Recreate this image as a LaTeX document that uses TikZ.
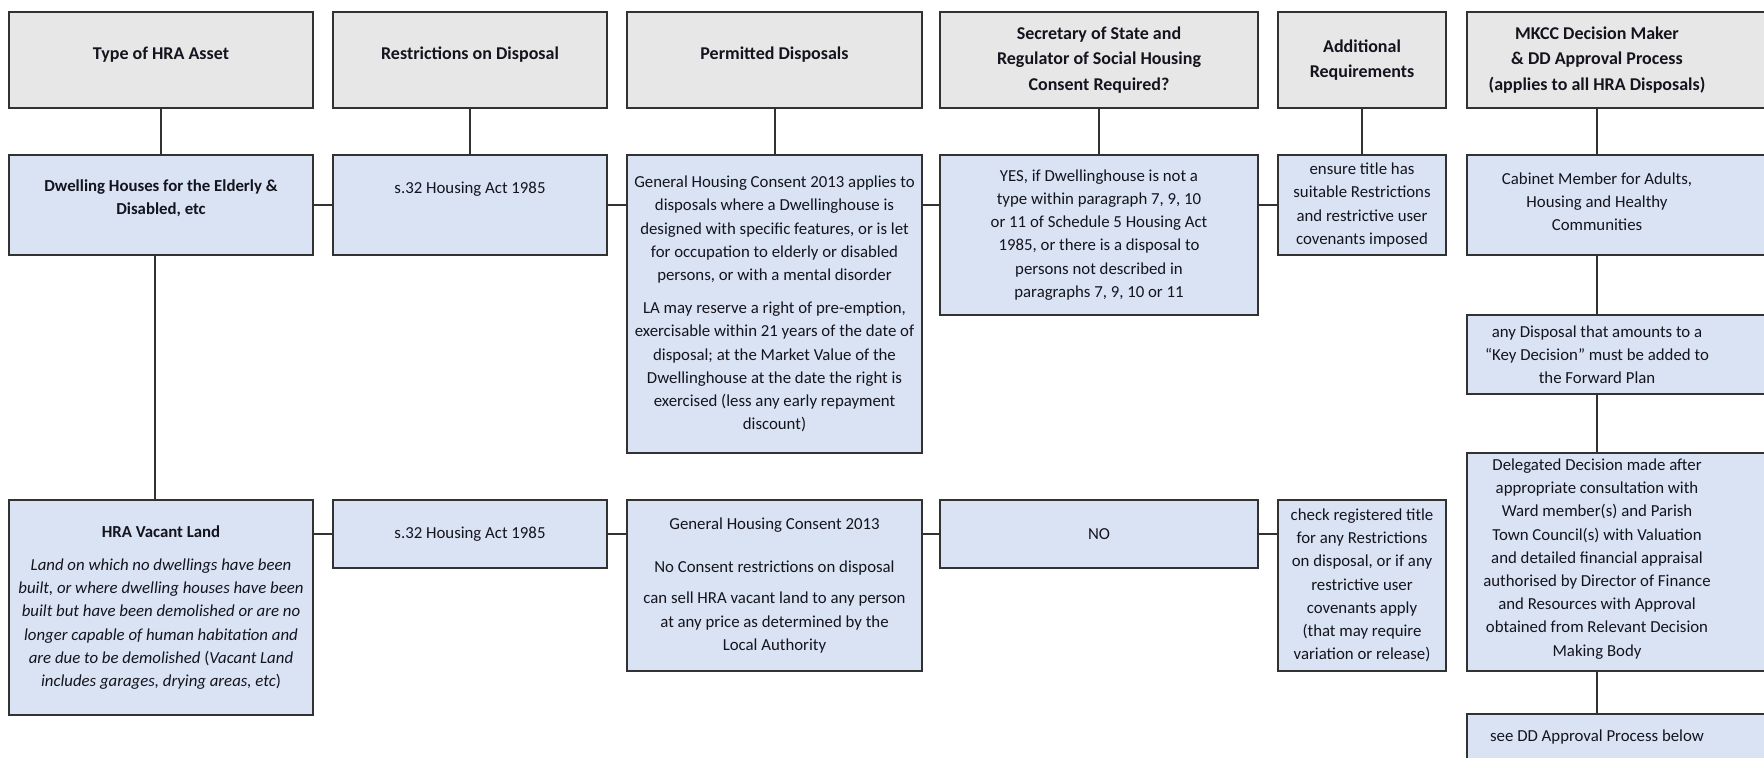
\documentclass[tikz,border=0pt]{standalone}
\usepackage{fontspec}
\setmainfont{Carlito}
\definecolor{linec}{RGB}{50,50,50}
\definecolor{hdrfill}{RGB}{231,231,231}
\definecolor{cellfill}{RGB}{218,227,243}
\definecolor{txtc}{RGB}{20,20,30}
\newcommand\hfnt{\fontsize{9}{12.7}\selectfont\bfseries}
\newcommand\bfnt{\fontsize{8.4}{11.6}\selectfont}
% #1 name, #2 style, #3 x1, #4 y1, #5 x2, #6 y2, #7 text
\newcommand\mybox[7]{\node[#2, minimum width={(#5-#3)*0.5pt}, minimum height={(#6-#4)*0.5pt}] (#1) at ({(#3+#5)/2},{(#4+#6)/2}) {#7};}
\begin{document}
\begin{tikzpicture}[x=0.5pt,y=-0.5pt,
  box/.style={draw=linec, line width=1pt, rectangle, inner sep=0pt, align=center, text=txtc},
  hdr/.style={box, fill=hdrfill, font=\hfnt},
  cell/.style={box, fill=cellfill, font=\bfnt},
  txt/.style={inner sep=0pt, align=center, text=txtc},
  conn/.style={draw=linec, line width=1pt}]
\fill[white] (0,0) rectangle (1764,758);
\useasboundingbox (0,0) rectangle (1764,758);
% headers
\mybox{h1}{hdr}{9}{12}{313}{108}{Type of HRA Asset\\[-6pt]\mbox{}}
\mybox{h2}{hdr}{333}{12}{607}{108}{Restrictions on Disposal\\[-6pt]\mbox{}}
\mybox{h3}{hdr}{627}{12}{922}{108}{Permitted Disposals\\[-6pt]\mbox{}}
\mybox{h4}{hdr}{940}{12}{1258}{108}{Secretary of State and\\Regulator of Social Housing\\Consent Required?}
\mybox{h5}{hdr}{1278}{12}{1446}{108}{Additional\\Requirements}
\mybox{h6}{hdr}{1467}{12}{1800}{108}{}
\node[txt, font=\hfnt] (h6t) at (1597,60) {MKCC Decision Maker\\\& DD Approval Process\\(applies to all HRA Disposals)};
% row 1
\mybox{a1}{cell}{9}{155}{313}{255}{\textbf{Dwelling Houses for the Elderly \&}\\\textbf{Disabled, etc}\\[-4pt]\mbox{}}
\mybox{b1}{cell}{333}{155}{607}{255}{s.32 Housing Act 1985\\[6pt]\mbox{}}
\mybox{c1}{cell}{627}{155}{922}{453}{General Housing Consent 2013 applies to\\disposals where a Dwellinghouse is\\designed with specific features, or is let\\for occupation to elderly or disabled\\persons, or with a mental disorder\\[5pt]LA may reserve a right of pre-emption,\\exercisable within 21 years of the date of\\disposal; at the Market Value of the\\Dwellinghouse at the date the right is\\exercised (less any early repayment\\discount)}
\mybox{d1}{cell}{940}{155}{1258}{315}{YES, if Dwellinghouse is not a\\type within paragraph 7, 9, 10\\or 11 of Schedule 5 Housing Act\\1985, or there is a disposal to\\persons not described in\\paragraphs 7, 9, 10 or 11}
\mybox{e1}{cell}{1278}{155}{1446}{255}{ensure title has\\suitable Restrictions\\and restrictive user\\covenants imposed}
\mybox{f1}{cell}{1467}{155}{1800}{255}{}
\node[txt, font=\bfnt] (f1t) at (1597,202) {Cabinet Member for Adults,\\Housing and Healthy\\Communities};
\mybox{f2}{cell}{1467}{315}{1800}{394}{}
\node[txt, font=\bfnt] (f2t) at (1597,355) {any Disposal that amounts to a\\“Key Decision” must be added to\\the Forward Plan};
\mybox{f3}{cell}{1467}{453}{1800}{671}{}
\node[txt, font=\bfnt] (f3t) at (1597,559) {Delegated Decision made after\\appropriate consultation with\\Ward member(s) and Parish\\Town Council(s) with Valuation\\and detailed financial appraisal\\authorised by Director of Finance\\and Resources with Approval\\obtained from Relevant Decision\\Making Body};
\mybox{f4}{cell}{1467}{714}{1800}{762}{}
\node[txt, font=\bfnt] (f4t) at (1597,737) {see DD Approval Process below};
% row 2
\mybox{a2}{cell}{9}{500}{313}{715}{\textbf{HRA Vacant Land}\\[5pt]\textit{Land on which no dwellings have been}\\\textit{built, or where dwelling houses have been}\\\textit{built but have been demolished or are no}\\\textit{longer capable of human habitation and}\\\textit{are due to be demolished} (\textit{Vacant Land}\\\textit{includes garages, drying areas, etc})}
\mybox{b2}{cell}{333}{500}{607}{568}{s.32 Housing Act 1985}
\mybox{c2}{cell}{627}{500}{922}{671}{General Housing Consent 2013\\[10pt]No Consent restrictions on disposal\\[4pt]can sell HRA vacant land to any person\\at any price as determined by the\\Local Authority}
\mybox{d2}{cell}{940}{500}{1258}{568}{NO}
\mybox{e2}{cell}{1278}{500}{1446}{671}{check registered title\\for any Restrictions\\on disposal, or if any\\restrictive user\\covenants apply\\(that may require\\variation or release)}
% connectors: headers to row 1
\draw[conn] (h1) -- (a1);
\draw[conn] (h2) -- (b1);
\draw[conn] (h3) -- (c1);
\draw[conn] (h4) -- (d1);
\draw[conn] (h5) -- (e1);
\draw[conn] (f1t |- h6.south) -- (f1t |- f1.north);
% column 1
\draw[conn] ([xshift=-3pt]a1.south) -- ([xshift=-3pt]a2.north);
% row 1 horizontals
\draw[conn] (a1.east) -- (b1.west);
\draw[conn] (b1.east) -- (b1.east -| c1.west);
\draw[conn] (b1.east -| c1.east) -- (b1.east -| d1.west);
\draw[conn] (e1.west -| d1.east) -- (e1.west);
% row 2 horizontals
\draw[conn] (b2.west -| a2.east) -- (b2.west);
\draw[conn] (b2.east) -- (b2.east -| c2.west);
\draw[conn] (d2.west -| c2.east) -- (d2.west);
\draw[conn] (d2.east) -- (d2.east -| e2.west);
% right column
\draw[conn] (f1t |- f1.south) -- (f1t |- f2.north);
\draw[conn] (f1t |- f2.south) -- (f1t |- f3.north);
\draw[conn] (f1t |- f3.south) -- (f1t |- f4.north);
\end{tikzpicture}
\end{document}
